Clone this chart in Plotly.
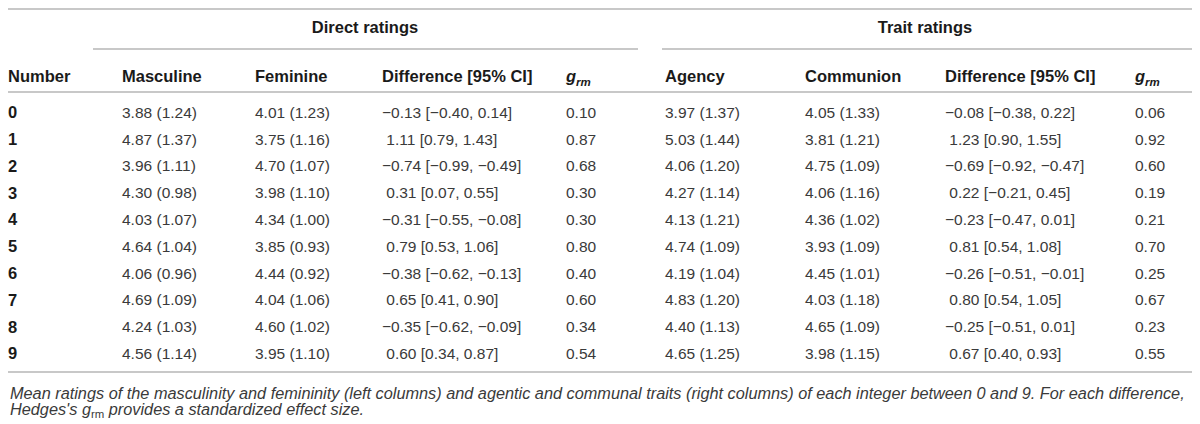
import plotly.graph_objects as go

numbers = ["0", "1", "2", "3", "4", "5", "6", "7", "8", "9"]
masculine = ["3.88 (1.24)", "4.87 (1.37)", "3.96 (1.11)", "4.30 (0.98)", "4.03 (1.07)",
             "4.64 (1.04)", "4.06 (0.96)", "4.69 (1.09)", "4.24 (1.03)", "4.56 (1.14)"]
feminine = ["4.01 (1.23)", "3.75 (1.16)", "4.70 (1.07)", "3.98 (1.10)", "4.34 (1.00)",
            "3.85 (0.93)", "4.44 (0.92)", "4.04 (1.06)", "4.60 (1.02)", "3.95 (1.10)"]
diff_direct = ["−0.13 [−0.40, 0.14]", "1.11 [0.79, 1.43]", "−0.74 [−0.99, −0.49]",
               "0.31 [0.07, 0.55]", "−0.31 [−0.55, −0.08]", "0.79 [0.53, 1.06]",
               "−0.38 [−0.62, −0.13]", "0.65 [0.41, 0.90]", "−0.35 [−0.62, −0.09]",
               "0.60 [0.34, 0.87]"]
g_direct = ["0.10", "0.87", "0.68", "0.30", "0.30", "0.80", "0.40", "0.60", "0.34", "0.54"]
agency = ["3.97 (1.37)", "5.03 (1.44)", "4.06 (1.20)", "4.27 (1.14)", "4.13 (1.21)",
          "4.74 (1.09)", "4.19 (1.04)", "4.83 (1.20)", "4.40 (1.13)", "4.65 (1.25)"]
communion = ["4.05 (1.33)", "3.81 (1.21)", "4.75 (1.09)", "4.06 (1.16)", "4.36 (1.02)",
             "3.93 (1.09)", "4.45 (1.01)", "4.03 (1.18)", "4.65 (1.09)", "3.98 (1.15)"]
diff_trait = ["−0.08 [−0.38, 0.22]", "1.23 [0.90, 1.55]", "−0.69 [−0.92, −0.47]",
              "0.22 [−0.21, 0.45]", "−0.23 [−0.47, 0.01]", "0.81 [0.54, 1.08]",
              "−0.26 [−0.51, −0.01]", "0.80 [0.54, 1.05]", "−0.25 [−0.51, 0.01]",
              "0.67 [0.40, 0.93]"]
g_trait = ["0.06", "0.92", "0.60", "0.19", "0.21", "0.70", "0.25", "0.67", "0.23", "0.55"]

col_headers = ["Number", "Masculine", "Feminine", "Difference [95% CI]", "<i>g<sub>rm</sub></i>",
               "Agency", "Communion", "Difference [95% CI]", "<i>g<sub>rm</sub></i>"]
group_headers = ["Direct ratings", "Trait ratings"]
caption_lines = [
    "<i>Mean ratings of the masculinity and femininity (left columns) and agentic and communal "
    "traits (right columns) of each integer between 0 and 9. For each difference,</i>",
    "<i>Hedges's g</i><sub>rm</sub><i> provides a standardized effect size.</i>",
]

# the page has an 8px body margin: work in page-pixel coordinates
W, H = 1200, 424
OFF = 8
col_x = [8, 122, 255, 382, 566, 665, 805, 945, 1135]
row_y0, row_dy = 114, 26.8
header_y = 78
group_y = 29
group_x = [365, 925]
caption_y = [393, 410]

FONT = "Liberation Sans, Arial, Helvetica, sans-serif"
BODY = "#3a3a3a"
HEAD = "#1a1a1a"
LINE = "#c8c8c8"
FS_BODY = 15.5
FS_HEAD = 16.5
FS_CAP = 16.3


def pad(vals):
    return [v if v.startswith("−") else "\u00a0" + v for v in vals]


columns = [numbers, masculine, feminine, pad(diff_direct), g_direct,
           agency, communion, pad(diff_trait), g_trait]

fig = go.Figure()
rows_y = [row_y0 + i * row_dy for i in range(len(numbers))]
for ci, vals in enumerate(columns):
    if ci == 0:
        txt = ["<b>%s</b>" % v for v in vals]
        col, fs = HEAD, FS_HEAD
    else:
        txt = vals
        col, fs = BODY, FS_BODY
    fig.add_trace(go.Scatter(x=[col_x[ci]] * len(vals), y=rows_y, text=txt, mode="text",
                             textposition="middle right", cliponaxis=False,
                             textfont=dict(family=FONT, size=fs, color=col),
                             hoverinfo="skip", showlegend=False))

hdr_txt = ["<b>%s</b>" % h for h in col_headers]
fig.add_trace(go.Scatter(x=col_x, y=[header_y] * len(col_x), text=hdr_txt, mode="text",
                         textposition="middle right", cliponaxis=False,
                         textfont=dict(family=FONT, size=FS_HEAD, color=HEAD),
                         hoverinfo="skip", showlegend=False))
fig.add_trace(go.Scatter(x=group_x, y=[group_y] * 2, text=["<b>%s</b>" % g for g in group_headers],
                         mode="text", textposition="middle center", cliponaxis=False,
                         textfont=dict(family=FONT, size=FS_HEAD, color=HEAD),
                         hoverinfo="skip", showlegend=False))

shapes = []
for (x0, x1, y) in [(OFF, W, 9), (93, 638, 49), (662, W, 49), (OFF, W, 92), (OFF, W, 372)]:
    shapes.append(dict(type="line", xref="x", yref="y", x0=x0, x1=x1, y0=y, y1=y,
                       line=dict(color=LINE, width=1.8)))

annotations = [dict(x=OFF, y=cy, xref="x", yref="y", xanchor="left", yanchor="middle",
                    text=t, showarrow=False, align="left",
                    font=dict(family=FONT, size=FS_CAP, color="#3a3a3a"))
               for t, cy in zip(caption_lines, caption_y)]

fig.update_layout(
    width=W - OFF, height=H - OFF, margin=dict(l=0, r=0, t=0, b=0),
    paper_bgcolor="white", plot_bgcolor="white",
    xaxis=dict(range=[OFF, W], visible=False, fixedrange=True),
    yaxis=dict(range=[H, OFF], visible=False, fixedrange=True),
    shapes=shapes,
    annotations=annotations,
)

fig.write_html("out.html")
